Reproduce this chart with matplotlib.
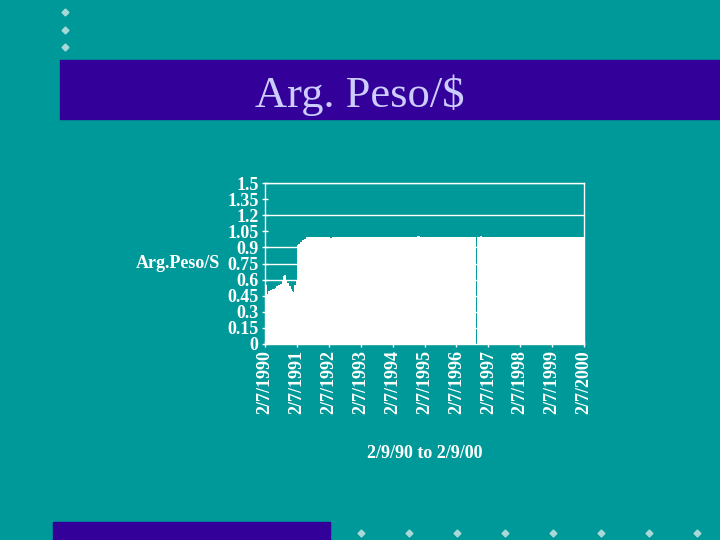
import matplotlib
matplotlib.use("Agg")
import matplotlib.pyplot as plt
from matplotlib.patches import Rectangle

# years since 2/7/1990 and the peso/$ rate from that point on
years = [0.00, 0.02, 0.04, 0.06, 0.09, 0.15, 0.22, 0.30, 0.36, 0.42, 0.48,
         0.53, 0.56, 0.58, 0.60, 0.65, 0.70, 0.75, 0.80, 0.85, 0.88, 0.92,
         0.96, 0.99, 1.04, 1.10, 1.16, 1.22, 1.30, 1.50, 2.00, 2.05, 2.10,
         3.00, 4.00, 4.78, 4.85, 5.50, 6.00, 6.60, 6.635, 6.75, 6.80, 7.50,
         8.00, 9.00, 10.00]
rate = [0.28, 0.45, 0.55, 0.47, 0.49, 0.50, 0.51, 0.52, 0.54, 0.55, 0.56,
        0.59, 0.63, 0.69, 0.64, 0.60, 0.57, 0.54, 0.51, 0.49, 0.48, 0.55,
        0.60, 0.92, 0.93, 0.95, 0.97, 0.98, 1.00, 0.995, 0.995, 0.985, 0.995,
        0.995, 0.995, 1.005, 0.998, 0.998, 0.998, 0.0, 0.998, 1.005, 0.998, 0.998,
        0.998, 0.998, 0.998]

yticks = [0, 0.15, 0.3, 0.45, 0.6, 0.75, 0.9, 1.05, 1.2, 1.35, 1.5]
ytick_labels = ['0', '0.15', '0.3', '0.45', '0.6', '0.75', '0.9', '1.05', '1.2', '1.35', '1.5']
xtick_labels = ['2/7/1990', '2/7/1991', '2/7/1992', '2/7/1993', '2/7/1994', '2/7/1995',
                '2/7/1996', '2/7/1997', '2/7/1998', '2/7/1999', '2/7/2000']

teal = '#009999'
purple = '#330099'
serif = ['Liberation Serif', 'DejaVu Serif']

fig = plt.figure(figsize=(7.2, 5.4), dpi=100)
fig.patch.set_facecolor(teal)

# slide decoration
deco = fig.add_axes([0, 0, 1, 1])
deco.set_xlim(0, 720)
deco.set_ylim(540, 0)
deco.axis('off')
deco.add_patch(Rectangle((60, 60), 660, 59, color=purple))
deco.add_patch(Rectangle((53, 522), 277, 20, color=purple))
deco.plot([65, 65, 65], [12, 30, 47], 'D', color='#a8d8d8', markersize=3.5)
deco.plot([361, 409, 457, 505, 553, 601, 649, 697], [533] * 8, 'D', color='#a8d8d8', markersize=3.5)
deco.text(360, 95, 'Arg. Peso/$', ha='center', va='center', color='#ccccff',
          fontsize=32, family=serif)

# chart
ax = fig.add_axes([265 / 720, 1 - 344 / 540, 319 / 720, 161 / 540])
ax.set_facecolor(teal)
ax.fill_between(years, rate, 0, step='post', color='white', linewidth=0,
                antialiased=False, zorder=3)
ax.set_xlim(0, 10)
ax.set_ylim(0, 1.5)
ax.set_yticks(yticks)
ax.set_yticklabels(ytick_labels)
ax.set_xticks(range(11))
ax.set_xticklabels(xtick_labels, rotation=90)
for t in ax.get_xticklabels() + ax.get_yticklabels():
    t.set_family(serif)
    t.set_weight('bold')
    t.set_color('white')
    t.set_fontsize(13)
ax.tick_params(colors='white', direction='inout', length=5, width=1, pad=2)
ax.grid(axis='y', color='white', linewidth=1, zorder=1)
gl = ax.get_ygridlines()
gl[7].set_visible(False)
gl[9].set_visible(False)
for s in ax.spines.values():
    s.set_color('white')
    s.set_linewidth(1)
    s.set_zorder(4)

ax.set_ylabel('Arg.Peso/S', rotation=0, color='white', fontsize=13, fontweight='bold',
              family=serif, ha='right', va='center')
ax.yaxis.set_label_coords(-0.14, 0.5)
ax.set_xlabel('2/9/90 to 2/9/00', color='white', fontsize=13, fontweight='bold',
              family=serif, labelpad=22)

fig.savefig('out.png', dpi=100, facecolor=teal)
